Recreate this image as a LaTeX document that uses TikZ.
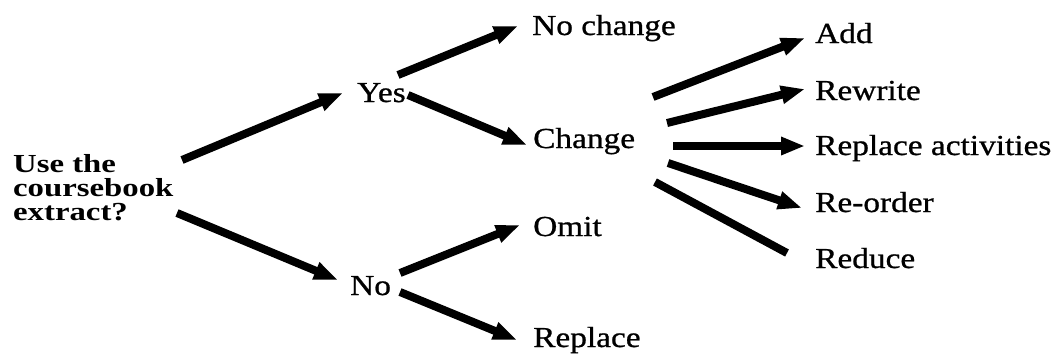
\documentclass[tikz,border=0pt]{standalone}
\usepackage{fontspec}
\setmainfont{Liberation Serif}[FakeStretch=1.15,FakeBold=0.8]
\newfontfamily\qfont{Liberation Serif}[FakeStretch=1.26]
\usetikzlibrary{arrows.meta}
\begin{document}
\begin{tikzpicture}[x=1pt,y=-1pt,
  lbl/.style={anchor=base west,inner sep=0pt,font=\fontsize{29}{31}\selectfont},
  qbox/.style={anchor=north west,inner sep=0pt,align=left,font=\qfont\bfseries\fontsize{26}{24}\selectfont},
  shaft/.style={line width=8pt,line cap=butt},
  arr/.style={shaft,-{Triangle[length=24pt,width=17pt]}}]
\useasboundingbox (0,0) rectangle (1057,354);
% nodes
\node[qbox] (q) at (13,154) {Use the\\coursebook\\extract?};
\node[lbl] (yes) at (357,102) {Yes};
\node[lbl] (no) at (350,295) {No};
\node[lbl] (nochange) at (532,35) {No change};
\node[lbl] (change) at (533,148) {Change};
\node[lbl] (omit) at (533,236) {Omit};
\node[lbl] (replace) at (533,347) {Replace};
\node[lbl] (add) at (815,43) {Add};
\node[lbl] (rewrite) at (815,100) {Rewrite};
\node[lbl] (repact) at (815,155) {Replace activities};
\node[lbl] (reorder) at (815,212) {Re-order};
\node[lbl] (reduce) at (815,268) {Reduce};
% connector ends
\coordinate (q-y) at (182,160);   \coordinate (y-q) at (343,93);
\coordinate (q-n) at (177,213);   \coordinate (n-q) at (338,280);
\coordinate (y-nc) at (398,75);   \coordinate (nc-y) at (518,26);
\coordinate (y-c) at (408,95);    \coordinate (c-y) at (527,145);
\coordinate (c-a) at (653,97);    \coordinate (a-c) at (805,38);
\coordinate (c-rw) at (667,123);  \coordinate (rw-c) at (805,89);
\coordinate (c-ra) at (673,146);  \coordinate (ra-c) at (805,146);
\coordinate (c-ro) at (668,163);  \coordinate (ro-c) at (802,208);
\coordinate (c-rd) at (655,182);  \coordinate (rd-c) at (787,253);
\coordinate (n-o) at (400,273);   \coordinate (o-n) at (520,225);
\coordinate (n-r) at (400,292);   \coordinate (r-n) at (517,340);
% connectors
\draw[arr] (q-y) -- (y-q);
\draw[arr] (q-n) -- (n-q);
\draw[arr] (y-nc) -- (nc-y);
\draw[arr] (y-c) -- (c-y);
\draw[arr] (c-a) -- (a-c);
\draw[arr] (c-rw) -- (rw-c);
\draw[arr] (c-ra) -- (ra-c);
\draw[arr] (c-ro) -- (ro-c);
\draw[shaft] (c-rd) -- (rd-c);
\draw[arr] (n-o) -- (o-n);
\draw[arr] (n-r) -- (r-n);
\end{tikzpicture}
\end{document}
